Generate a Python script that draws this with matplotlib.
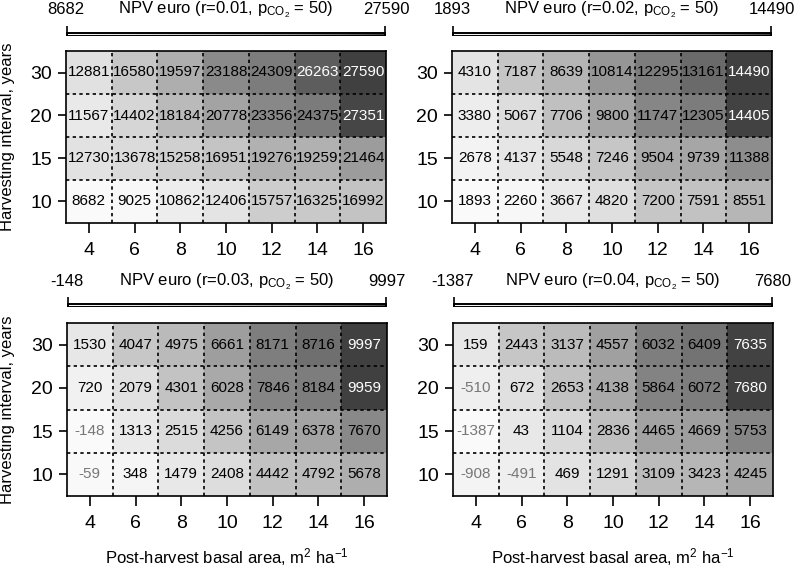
import numpy as np
import matplotlib
matplotlib.use("Agg")
from matplotlib import pyplot as plt
from matplotlib.colors import ListedColormap, Normalize
from matplotlib.patches import Rectangle

plt.rcParams['font.family'] = ['Liberation Sans', 'DejaVu Sans']
plt.rcParams['mathtext.fontset'] = 'custom'
plt.rcParams['mathtext.rm'] = 'Liberation Sans'
plt.rcParams['mathtext.it'] = 'Liberation Sans'

# basal area (x) and harvesting interval (y, bottom to top)
basal = [4, 6, 8, 10, 12, 14, 16]
interval = [10, 15, 20, 30]
rates = ["0.01", "0.02", "0.03", "0.04"]

npv_r01 = [[8682, 9025, 10862, 12406, 15757, 16325, 16992],
           [12730, 13678, 15258, 16951, 19276, 19259, 21464],
           [11567, 14402, 18184, 20778, 23356, 24375, 27351],
           [12881, 16580, 19597, 23188, 24309, 26263, 27590]]
npv_r02 = [[1893, 2260, 3667, 4820, 7200, 7591, 8551],
           [2678, 4137, 5548, 7246, 9504, 9739, 11388],
           [3380, 5067, 7706, 9800, 11747, 12305, 14405],
           [4310, 7187, 8639, 10814, 12295, 13161, 14490]]
npv_r03 = [[-59, 348, 1479, 2408, 4442, 4792, 5678],
           [-148, 1313, 2515, 4256, 6149, 6378, 7670],
           [720, 2079, 4301, 6028, 7846, 8184, 9959],
           [1530, 4047, 4975, 6661, 8171, 8716, 9997]]
npv_r04 = [[-908, -491, 469, 1291, 3109, 3423, 4245],
           [-1387, 43, 1104, 2836, 4465, 4669, 5753],
           [-510, 672, 2653, 4138, 5864, 6072, 7680],
           [159, 2443, 3137, 4557, 6032, 6409, 7635]]
panels = [npv_r01, npv_r02, npv_r03, npv_r04]

# grey ramp like R's grey.colors (gamma 2.2), light -> dark
g = 2.2
f = np.linspace(0, 1, 256)
lev = ((1 - f) * 0.98 ** g + f * 0.25 ** g) ** (1 / g)
cmap = ListedColormap(np.column_stack([lev, lev, lev]))

W, H = 796, 569
fig = plt.figure(figsize=(W / 100, H / 100), dpi=100)

# pixel boxes: left, top, right, bottom of each heatmap
boxes = [(66, 51, 386, 223), (452, 51, 772, 223),
         (67, 323, 387, 496), (453, 323, 773, 496)]
cbar_y = [(26, 36), (26, 36), (297, 307), (297, 307)]
text_y = [10, 10, 282, 282]

for k in range(4):
    data = np.array(panels[k])
    l, t, r, b = boxes[k]
    ax = fig.add_axes([l / W, 1 - b / H, (r - l) / W, (b - t) / H])
    norm = Normalize(data.min(), data.max())
    xe = np.arange(3, 18, 2)
    ye = np.arange(-0.5, 4, 1)
    ax.pcolormesh(xe, ye, data, cmap=cmap, norm=norm)
    for i in range(len(interval)):
        for j in range(len(basal)):
            v = data[i, j]
            fr = norm(v)
            col = "white" if fr > 0.9 else ("#777777" if v < 0 else "black")
            ax.text(basal[j], i, str(v), ha="center", va="center",
                    fontsize=11, color=col)
    for x in xe[1:-1]:
        ax.axvline(x, color="black", lw=1.2, ls=(0, (2, 2)))
    for y in ye[1:-1]:
        ax.axhline(y, color="black", lw=1.2, ls=(0, (2, 2)))
    ax.set_xlim(3, 17)
    ax.set_ylim(-0.5, 3.5)
    ax.set_xticks(basal)
    ax.set_yticks(range(len(interval)))
    ax.set_yticklabels(interval)
    ax.tick_params(axis="x", length=7, width=1.2, pad=7, labelsize=14)
    ax.tick_params(axis="y", length=6, width=1.2, pad=4, labelsize=14)
    for s in ax.spines.values():
        s.set_linewidth(1.2)

    # colour key above the panel
    y0, y1 = cbar_y[k]
    cax = fig.add_axes([l / W, 1 - y1 / H, (r - l) / W, (y1 - y0) / H])
    grad = np.linspace(0, 1, 256).reshape(1, -1)
    cax.imshow(grad, cmap=cmap, aspect="auto", extent=[0, 1, 0, 0.3])
    cax.add_patch(Rectangle((0, 0), 1, 0.3, fill=False, ec="black", lw=1.4))
    cax.plot([0, 0], [0, 1], color="black", lw=1.2)
    cax.plot([1, 1], [0, 1], color="black", lw=1.2)
    cax.set_xlim(-0.003, 1.003)
    cax.set_ylim(-0.05, 1)
    cax.axis("off")

    ty = 1 - text_y[k] / H
    fig.text(l / W, ty, str(data.min()), ha="center", va="center", fontsize=12)
    fig.text(r / W, ty, str(data.max()), ha="center", va="center", fontsize=12)
    fig.text((l + r) / 2 / W, ty,
             r"NPV euro (r=" + rates[k] + r", p$_{\mathrm{CO_2}}$ = 50)",
             ha="center", va="center", fontsize=12)

    if k % 2 == 0:
        fig.text(8 / W, 1 - (t + b) / 2 / H, "Harvesting interval, years",
                 rotation=90, ha="center", va="center", fontsize=12)
    if k >= 2:
        fig.text((l + r) / 2 / W, 1 - 557 / H,
                 r"Post-harvest basal area, m$^2$ ha$^{-1}$",
                 ha="center", va="center", fontsize=12)

fig.savefig("out.png", dpi=100)
